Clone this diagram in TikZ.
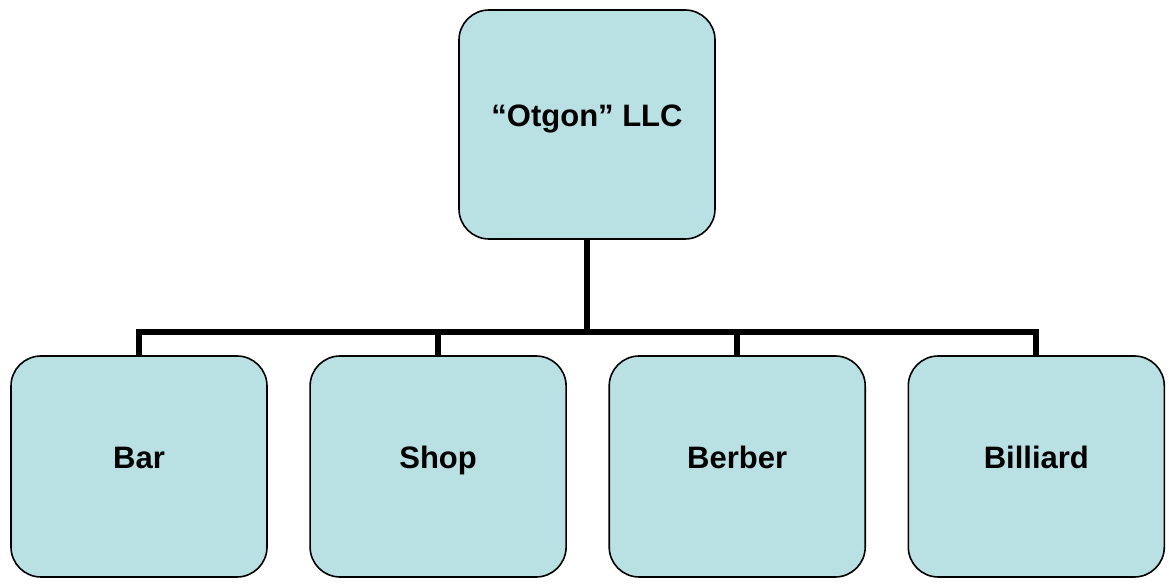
\documentclass[tikz,border=0pt]{standalone}
\usepackage{fontspec}
\setmainfont{Liberation Sans}
\usepackage{tikz}
\usetikzlibrary{positioning}
\definecolor{azulCaja}{HTML}{B9E0E3}

\begin{document}
\begin{tikzpicture}[x=1pt, y=1pt,
        caja/.style={draw=black, fill=azulCaja, line width=1.6pt, rounded corners=30pt,
            minimum width=256pt, align=center, text depth=18pt, text height=22pt,
            font=\fontsize{31}{37}\selectfont\bfseries},
        cajaTop/.style={caja, minimum height=229pt},
        cajaSub/.style={caja, minimum height=221pt},
        rama/.style={draw=black, line width=6pt}
    ]
        \useasboundingbox (0,0) rectangle (1169,585);

        \node[cajaTop] (otgon) at (587,460.5) {“Otgon” LLC};
        \node[cajaSub] (bar) at (139,118.5) {Bar};
        \node[cajaSub, right=41.5pt of bar] (shop) {Shop};
        \node[cajaSub, right=41.5pt of shop] (berber) {Berber};
        \node[cajaSub, right=41.5pt of berber] (billiard) {Billiard};

        \draw[rama] (otgon.south) -- ++(0,-92) coordinate (bus);
        \foreach \n in {bar,shop,berber,billiard}
            \draw[rama] (bus) -| (\n.north);
    \end{tikzpicture}
\end{document}
